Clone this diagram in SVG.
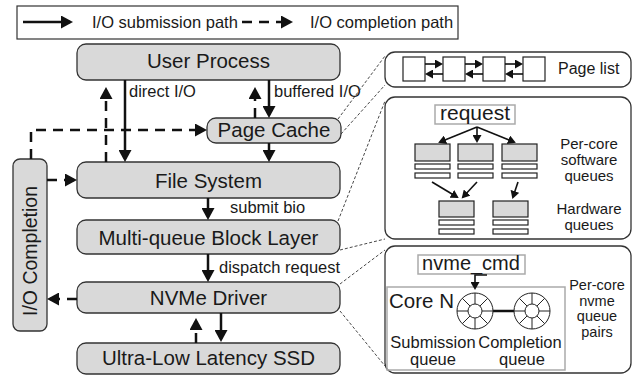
<svg xmlns="http://www.w3.org/2000/svg" width="639" height="377" viewBox="0 0 639 377">
<style>
text{font-family:"Liberation Sans",Arial,Helvetica,sans-serif;fill:#1a1a1a}
.box{fill:#d9d9d9;stroke:#333;stroke-width:1.3}
.panel{fill:#fff;stroke:#333;stroke-width:1.3}
.big{font-size:20.5px;text-anchor:middle}
.lbl{font-size:16.5px}
.sm{font-size:15px;text-anchor:middle}
.xs{font-size:14.5px;text-anchor:middle}
.sol{stroke:#111;stroke-width:2.5;fill:none}
.dsh{stroke:#111;stroke-width:2.5;fill:none;stroke-dasharray:10 7}
.fine{stroke:#333;stroke-width:0.9;fill:none;stroke-dasharray:3 2}
.gbox{fill:#fff;stroke:#aaa;stroke-width:1.5}
.q{fill:#d9d9d9;stroke:#222;stroke-width:1.2}
.slot{fill:#fff;stroke:#222;stroke-width:1.2}
.thin{stroke:#111;stroke-width:1.6;fill:none}
.ring{fill:#fff;stroke:#222;stroke-width:1}
.spk{stroke:#222;stroke-width:1}
</style>
<defs>
<marker id="ah" markerUnits="userSpaceOnUse" markerWidth="13" markerHeight="13" refX="9" refY="6.5" orient="auto"><path d="M0,0 L12,6.5 L0,13 z" fill="#111"/></marker>
<marker id="as" markerUnits="userSpaceOnUse" markerWidth="9" markerHeight="9" refX="6" refY="4.5" orient="auto"><path d="M0,0 L8,4.5 L0,9 z" fill="#111"/></marker>
<g id="wheel">
<circle r="18" class="ring"/>
<circle r="7" class="ring"/>
<path class="spk" d="M0,-7V-18M0,7V18M-7,0H-18M7,0H18M4.95,-4.95L12.73,-12.73M-4.95,-4.95L-12.73,-12.73M4.95,4.95L12.73,12.73M-4.95,4.95L-12.73,12.73"/>
</g>
</defs>

<g id="legend">
<rect x="17" y="6" width="441" height="33" fill="#fff" stroke="#333" stroke-width="1.2"/>
<line x1="23" y1="22" x2="70" y2="22" class="sol" marker-end="url(#ah)"/>
<text x="92" y="28" class="lbl">I/O submission path</text>
<line x1="242" y1="22" x2="290" y2="22" class="dsh" marker-end="url(#ah)"/>
<text x="310" y="28" class="lbl">I/O completion path</text>
</g>

<g id="user-process"><rect x="77" y="44" width="263" height="36" rx="9" class="box"/><text x="208.5" y="68" class="big">User Process</text></g>
<g id="page-cache"><rect x="207" y="118" width="134" height="25" rx="9" class="box"/><text x="274" y="137" class="big">Page Cache</text></g>
<g id="file-system"><rect x="77" y="162" width="263" height="36" rx="9" class="box"/><text x="208.5" y="188" class="big">File System</text></g>
<g id="block-layer"><rect x="77" y="220" width="263" height="34" rx="9" class="box"/><text x="208.5" y="245" class="big">Multi-queue Block Layer</text></g>
<g id="nvme-driver"><rect x="77" y="282" width="263" height="31" rx="9" class="box"/><text x="208.5" y="305" class="big">NVMe Driver</text></g>
<g id="ssd"><rect x="77" y="343" width="263" height="31" rx="9" class="box"/><text x="208.5" y="365" class="big">Ultra-Low Latency SSD</text></g>
<g id="io-completion"><rect x="13" y="159" width="34" height="172" rx="7" class="box"/><text transform="translate(37,251) rotate(-90)" class="big" style="font-size:19.5px">I/O Completion</text></g>

<g id="connectors">
<line x1="125" y1="80" x2="125" y2="159" class="sol" marker-end="url(#ah)"/>
<line x1="106" y1="162" x2="106" y2="90" class="dsh" marker-end="url(#ah)"/>
<line x1="269" y1="80" x2="269" y2="115" class="sol" marker-end="url(#ah)"/>
<line x1="255" y1="118" x2="255" y2="90" class="dsh" marker-end="url(#ah)"/>
<polyline points="31,159 31,130 204,130" class="dsh" marker-end="url(#ah)"/>
<line x1="269" y1="143" x2="269" y2="159" class="sol" marker-end="url(#ah)"/>
<line x1="47" y1="180" x2="74" y2="180" class="dsh" marker-end="url(#ah)"/>
<line x1="208" y1="198" x2="208" y2="217" class="sol" marker-end="url(#ah)"/>
<line x1="208" y1="254" x2="208" y2="279" class="sol" marker-end="url(#ah)"/>
<line x1="77" y1="299" x2="50" y2="299" class="dsh" marker-end="url(#ah)"/>
<line x1="196" y1="343" x2="196" y2="321" class="dsh" marker-end="url(#ah)"/>
<line x1="221" y1="313" x2="221" y2="339" class="sol" marker-end="url(#ah)"/>
<text x="129" y="97" class="lbl">direct I/O</text>
<text x="274" y="97" class="lbl">buffered I/O</text>
<text x="230" y="213" class="lbl">submit bio</text>
<text x="219" y="273" class="lbl">dispatch request</text>
<line x1="338" y1="119" x2="385" y2="56" class="fine"/>
<line x1="341" y1="134" x2="385" y2="85" class="fine"/>
<line x1="338" y1="221" x2="385" y2="101" class="fine"/>
<line x1="340" y1="250" x2="385" y2="239" class="fine"/>
<line x1="340" y1="284" x2="385" y2="250" class="fine"/>
<line x1="340" y1="311" x2="385" y2="366" class="fine"/>
</g>

<g id="page-list">
<rect x="385" y="52" width="246" height="35" rx="10" class="panel"/>
<rect x="403" y="57" width="22" height="24" class="slot"/>
<rect x="443" y="57" width="22" height="24" class="slot"/>
<rect x="483" y="57" width="22" height="24" class="slot"/>
<rect x="523" y="57" width="22" height="24" class="slot"/>
<line x1="425" y1="64" x2="441" y2="64" class="thin" marker-end="url(#as)"/>
<line x1="443" y1="74" x2="427" y2="74" class="thin" marker-end="url(#as)"/>
<line x1="465" y1="64" x2="481" y2="64" class="thin" marker-end="url(#as)"/>
<line x1="483" y1="74" x2="467" y2="74" class="thin" marker-end="url(#as)"/>
<line x1="505" y1="64" x2="521" y2="64" class="thin" marker-end="url(#as)"/>
<line x1="523" y1="74" x2="507" y2="74" class="thin" marker-end="url(#as)"/>
<text x="558" y="74" class="lbl" style="font-size:16px">Page list</text>
</g>

<g id="block-queues">
<rect x="385" y="97" width="246" height="142" rx="10" class="panel"/>
<rect x="435" y="105" width="80" height="19" class="gbox"/>
<text x="475" y="120" class="big" style="font-size:21px">request</text>
<line x1="477" y1="127" x2="440" y2="142" class="thin" marker-end="url(#as)"/>
<line x1="477" y1="127" x2="477" y2="141" class="thin" marker-end="url(#as)"/>
<line x1="477" y1="127" x2="514" y2="142" class="thin" marker-end="url(#as)"/>
<rect x="415" y="144" width="35" height="17" class="q"/>
<rect x="458" y="144" width="35" height="17" class="q"/>
<rect x="502" y="144" width="35" height="17" class="q"/>
<rect x="415" y="164" width="35" height="5" class="slot"/>
<rect x="458" y="164" width="35" height="5" class="slot"/>
<rect x="502" y="164" width="35" height="5" class="slot"/>
<rect x="415" y="173" width="35" height="5" class="slot"/>
<rect x="458" y="173" width="35" height="5" class="slot"/>
<rect x="502" y="173" width="35" height="5" class="slot"/>
<line x1="432" y1="182" x2="457" y2="197" class="thin" marker-end="url(#as)"/>
<line x1="477" y1="182" x2="463" y2="197" class="thin" marker-end="url(#as)"/>
<line x1="518" y1="182" x2="513" y2="197" class="thin" marker-end="url(#as)"/>
<rect x="439" y="201" width="35" height="16" class="q"/>
<rect x="493" y="201" width="35" height="16" class="q"/>
<rect x="439" y="220" width="35" height="5" class="slot"/>
<rect x="493" y="220" width="35" height="5" class="slot"/>
<rect x="439" y="229" width="35" height="5" class="slot"/>
<rect x="493" y="229" width="35" height="5" class="slot"/>
<text x="589" y="149" class="sm">Per-core</text>
<text x="589" y="165" class="sm">software</text>
<text x="589" y="181" class="sm">queues</text>
<text x="589" y="214" class="sm">Hardware</text>
<text x="589" y="230" class="sm">queues</text>
</g>

<g id="nvme-queues">
<rect x="385" y="246" width="246" height="127" rx="10" class="panel"/>
<rect x="418" y="255" width="107" height="19" class="gbox"/>
<text x="471" y="270" class="big" style="font-size:20px">nvme_cmd</text>
<rect x="387" y="287" width="178" height="83" class="gbox" style="fill:none"/>
<polyline points="487,275 475,275 475,288" class="thin" marker-end="url(#as)"/>
<line x1="493" y1="311" x2="514" y2="311" stroke="#111" stroke-width="2.5"/>
<use href="#wheel" x="475" y="311"/>
<use href="#wheel" x="532" y="311"/>
<text x="389" y="308" style="font-size:20.5px">Core N</text>
<text x="433" y="348" class="sm" style="font-size:16.5px">Submission</text>
<text x="433" y="365" class="sm" style="font-size:16.5px">queue</text>
<text x="520" y="348" class="sm" style="font-size:16.5px">Completion</text>
<text x="522" y="365" class="sm" style="font-size:16.5px">queue</text>
<text x="597" y="290" class="xs">Per-core</text>
<text x="597" y="305.5" class="xs">nvme</text>
<text x="597" y="321" class="xs">queue</text>
<text x="597" y="336.5" class="xs">pairs</text>
</g>
</svg>
